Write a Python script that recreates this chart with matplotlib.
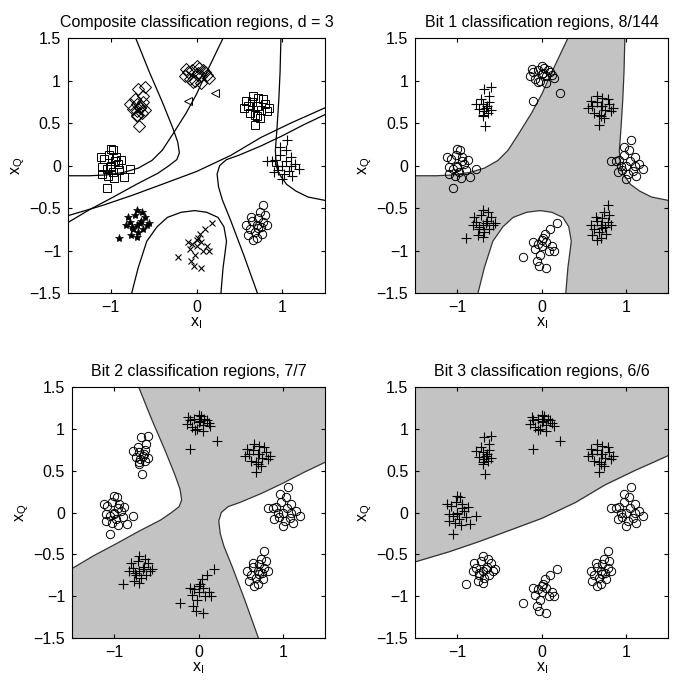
import matplotlib
matplotlib.use('Agg')
import matplotlib.pyplot as plt

plt.rcParams['font.family'] = ['Liberation Sans', 'DejaVu Sans']
plt.rcParams['mathtext.fontset'] = 'custom'
plt.rcParams['mathtext.rm'] = 'Liberation Sans'
plt.rcParams['mathtext.it'] = 'Liberation Sans'

## received symbols, one cluster per constellation point
left_x = [-1.0, -0.95, -1.05, -0.92, -1.08, -0.98, -1.02, -0.9, -1.1, -0.97, -1.03,
          -0.88, -1.12, -0.96, -1.0, -0.78, -1.05, -0.85, -1.1, -0.94, -1.0]
left_y = [0.0, 0.05, -0.04, 0.02, 0.08, -0.08, 0.12, -0.05, -0.02, 0.18, -0.12,
          0.06, 0.1, -0.15, 0.2, -0.04, -0.26, -0.14, -0.1, 0.1, -0.02]

upleft_x = [-0.7, -0.66, -0.72, -0.64, -0.68, -0.6, -0.78, -0.7, -0.62, -0.67,
            -0.74, -0.65, -0.69, -0.63, -0.6, -0.7]
upleft_y = [0.72, 0.68, 0.78, 0.62, 0.9, 0.65, 0.73, 0.58, 0.82, 0.46,
            0.66, 0.7, 0.64, 0.75, 0.92, 0.6]

top_x = [0.0, -0.05, 0.05, -0.1, 0.1, -0.02, 0.03, -0.14, 0.14, -0.08, 0.07,
         0.0, -0.04, 0.12, -0.12, 0.02, 0.05]
top_y = [1.08, 1.12, 1.05, 1.1, 1.1, 1.0, 1.15, 1.06, 1.03, 1.02, 1.12,
         1.17, 0.98, 1.07, 1.14, 1.09, 0.97]
top_out_x = [-0.1, 0.22]
top_out_y = [0.76, 0.86]

upright_x = [0.7, 0.65, 0.75, 0.6, 0.8, 0.68, 0.72, 0.55, 0.85, 0.62, 0.78,
             0.7, 0.66, 0.74, 0.58, 0.82, 0.68, 0.72]
upright_y = [0.7, 0.75, 0.65, 0.7, 0.72, 0.6, 0.8, 0.68, 0.68, 0.62, 0.78,
             0.58, 0.82, 0.56, 0.76, 0.64, 0.48, 0.7]

right_x = [1.0, 1.05, 0.95, 1.1, 0.92, 1.02, 1.08, 0.98, 1.15, 0.9, 1.04,
           1.12, 0.97, 1.2, 0.82, 0.88, 1.06, 1.0, 1.1, 0.94]
right_y = [0.0, 0.05, -0.05, 0.0, 0.06, -0.1, -0.06, 0.12, 0.02, -0.08, 0.18,
           -0.12, 0.22, -0.04, 0.05, 0.05, 0.3, -0.16, 0.1, 0.0]

lowright_x = [0.7, 0.65, 0.75, 0.62, 0.78, 0.68, 0.72, 0.58, 0.82, 0.64, 0.76,
              0.7, 0.6, 0.8, 0.66, 0.74, 0.78, 0.72]
lowright_y = [-0.7, -0.65, -0.72, -0.75, -0.66, -0.78, -0.62, -0.7, -0.7, -0.6, -0.8,
              -0.85, -0.82, -0.58, -0.88, -0.55, -0.46, -0.74]

bottom_x = [0.0, 0.05, -0.05, 0.08, -0.08, 0.02, -0.02, 0.12, -0.1, 0.04, 0.15,
            -0.22, 0.05, -0.03, 0.18, 0.0, 0.1, -0.06]
bottom_y = [-0.95, -0.9, -0.92, -1.0, -0.98, -0.85, -1.05, -0.95, -0.9, -0.8, -1.0,
            -1.08, -1.2, -1.18, -0.68, -0.88, -0.75, -1.12]

lowleft_x = [-0.7, -0.65, -0.75, -0.62, -0.78, -0.68, -0.72, -0.58, -0.82, -0.64,
             -0.76, -0.7, -0.6, -0.8, -0.66, -0.74, -0.9, -0.55, -0.7]
lowleft_y = [-0.7, -0.65, -0.72, -0.75, -0.66, -0.78, -0.58, -0.7, -0.7, -0.55,
             -0.82, -0.84, -0.6, -0.6, -0.68, -0.75, -0.85, -0.68, -0.52]

## decision boundaries
b1a_x = [-1.5, -1.25, -1.05, -0.85, -0.68, -0.52, -0.4, -0.27, -0.12, 0.0, 0.095, 0.2, 0.31]
b1a_y = [-0.12, -0.12, -0.11, -0.08, -0.03, 0.06, 0.18, 0.38, 0.62, 0.84, 1.05, 1.27, 1.5]
b1b_x = [0.985, 0.975, 0.96, 0.94, 0.92, 0.93, 0.965, 1.05, 1.16, 1.3, 1.5]
b1b_y = [1.5, 1.1, 0.77, 0.45, 0.18, 0.0, -0.1, -0.22, -0.3, -0.37, -0.41]
b1c_x = [-0.756, -0.68, -0.58, -0.46, -0.34, -0.18, -0.02, 0.12, 0.25, 0.32, 0.35,
         0.33, 0.31, 0.285]
b1c_y = [-1.5, -1.2, -0.89, -0.72, -0.61, -0.55, -0.53, -0.55, -0.61, -0.72, -0.89,
         -1.05, -1.2, -1.5]
b2a_x = [-0.71, -0.55, -0.4, -0.28, -0.22, -0.2, -0.23, -0.32, -0.45, -0.7, -0.97,
         -1.25, -1.5]
b2a_y = [1.5, 1.1, 0.75, 0.45, 0.28, 0.15, 0.07, 0.0, -0.09, -0.22, -0.37,
         -0.52, -0.67]
b2b_x = [0.71, 0.55, 0.4, 0.3, 0.257, 0.24, 0.27, 0.35, 0.49, 0.75, 1.0, 1.25, 1.5]
b2b_y = [-1.5, -1.05, -0.65, -0.4, -0.25, -0.1, 0.0, 0.07, 0.12, 0.23, 0.35, 0.48, 0.6]
b3_x = [-1.5, -1.1, -0.75, -0.4, 0.0, 0.4, 0.75, 1.1, 1.5]
b3_y = [-0.59, -0.47, -0.35, -0.22, -0.07, 0.12, 0.33, 0.5, 0.68]

titles = ['Composite classification regions, d = 3',
          'Bit 1 classification regions, 8/144',
          'Bit 2 classification regions, 7/7',
          'Bit 3 classification regions, 6/6']

clusters = [(left_x, left_y), (upleft_x, upleft_y), (top_x, top_y),
            (upright_x, upright_y), (right_x, right_y), (lowright_x, lowright_y),
            (bottom_x, bottom_y), (lowleft_x, lowleft_y)]
comp_markers = ['s', 'D', 'D', 's', '+', 'o', 'x', '*']
# which clusters get the plus sign in each bit plot
bit_plus = [[1, 3, 5, 7], [2, 3, 6, 7], [0, 1, 2, 3]]

GRAY = '#c3c3c3'
FS = 11.5


def point(ax, x, y, m):
    if m == '+':
        ax.plot(x, y, ls='none', marker=m, color='black', ms=7, mew=0.8, zorder=3)
    elif m == 'x':
        ax.plot(x, y, ls='none', marker=m, color='black', ms=5, mew=0.8, zorder=3)
    elif m == '*':
        ax.plot(x, y, ls='none', marker=m, color='black', ms=6, mew=0.5, zorder=3)
    else:
        ax.plot(x, y, ls='none', marker=m, mfc='none', mec='black', ms=6, mew=0.7, zorder=3)


def setup(ax, title):
    ax.set_xlim(-1.5, 1.5)
    ax.set_ylim(-1.5, 1.5)
    ax.set_xticks([-1, 0, 1])
    ax.set_yticks([-1.5, -1, -0.5, 0, 0.5, 1, 1.5])
    ax.set_yticklabels(['\u22121.5', '\u22121', '\u22120.5', '0', '0.5', '1', '1.5'])
    ax.set_xticklabels(['\u22121', '0', '1'])
    ax.tick_params(direction='in', top=True, right=True, labelsize=FS, length=3, pad=5)
    ax.set_xlabel(r'$\mathregular{x_I}$', fontsize=FS, labelpad=0)
    ax.set_ylabel(r'$\mathregular{x_Q}$', fontsize=FS, labelpad=2)
    ax.set_title(title, fontsize=FS, pad=8)
    for s in ax.spines.values():
        s.set_linewidth(0.8)


fig = plt.figure(figsize=(6.73, 6.87), dpi=100)
ax0 = fig.add_axes([0.101, 0.5735, 0.382, 0.371])
ax1 = fig.add_axes([0.617, 0.5735, 0.376, 0.371])
ax2 = fig.add_axes([0.107, 0.0713, 0.376, 0.3654])
ax3 = fig.add_axes([0.617, 0.0713, 0.376, 0.3654])

# composite
for (cx, cy), m in zip(clusters, comp_markers):
    point(ax0, cx, cy, m)
point(ax0, top_out_x, top_out_y, '<')
for bx, by in [(b1a_x, b1a_y), (b1b_x, b1b_y), (b1c_x, b1c_y),
               (b2a_x, b2a_y), (b2b_x, b2b_y), (b3_x, b3_y)]:
    ax0.plot(bx, by, color='black', lw=0.9)
setup(ax0, titles[0])

# bit 1
ax1.set_facecolor(GRAY)
ax1.fill(b1a_x + [-1.5], b1a_y + [1.5], color='white', lw=0)
ax1.fill(b1b_x + [1.5], b1b_y + [1.5], color='white', lw=0)
ax1.fill(b1c_x, b1c_y, color='white', lw=0)
for bx, by in [(b1a_x, b1a_y), (b1b_x, b1b_y), (b1c_x, b1c_y)]:
    ax1.plot(bx, by, color='#333333', lw=0.9)

# bit 2
ax2.set_facecolor(GRAY)
ax2.fill(b2a_x + [-1.5], b2a_y + [1.5], color='white', lw=0)
ax2.fill(b2b_x + [1.5], b2b_y + [-1.5], color='white', lw=0)
for bx, by in [(b2a_x, b2a_y), (b2b_x, b2b_y)]:
    ax2.plot(bx, by, color='#333333', lw=0.9)

# bit 3
ax3.fill_between(b3_x, b3_y, 1.5, color=GRAY, lw=0)
ax3.plot(b3_x, b3_y, color='#333333', lw=0.9)

for k, ax in enumerate([ax1, ax2, ax3]):
    for i, (cx, cy) in enumerate(clusters):
        point(ax, cx, cy, '+' if i in bit_plus[k] else 'o')
    point(ax, top_out_x, top_out_y, '+' if 2 in bit_plus[k] else 'o')
    setup(ax, titles[k + 1])

fig.savefig('out.png', dpi=100)
